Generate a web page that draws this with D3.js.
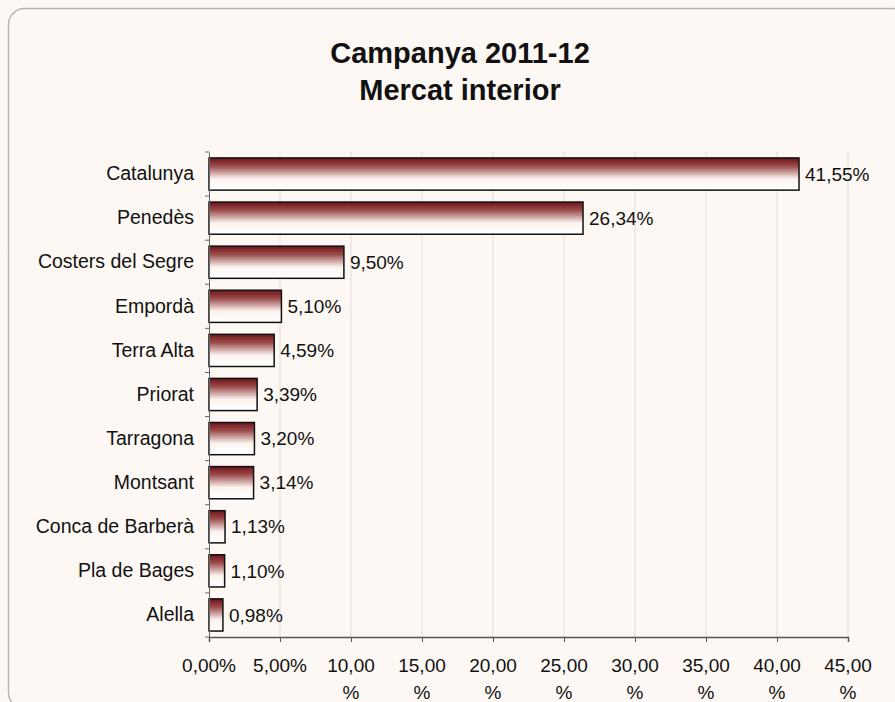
<!DOCTYPE html>
<html>
<head>
<meta charset="utf-8">
<script src="https://d3js.org/d3.v7.min.js"></script>
<style>
  body { margin: 0; background: #fdf8f4; }
  svg text { font-family: "Liberation Sans", Arial, sans-serif; fill: #111; }
</style>
</head>
<body>
<div id="chart"></div>
<script>
  // Chart data
  const categories = ["Catalunya", "Penedès", "Costers del Segre", "Empordà", "Terra Alta",
    "Priorat", "Tarragona", "Montsant", "Conca de Barberà", "Pla de Bages", "Alella"];
  const values = [41.55, 26.34, 9.50, 5.10, 4.59, 3.39, 3.20, 3.14, 1.13, 1.10, 0.98];
  const tickValues = [0, 5, 10, 15, 20, 25, 30, 35, 40, 45];
  const titleLines = ["Campanya 2011-12", "Mercat interior"];

  const width = 895, height = 702;
  const svg = d3.select("#chart").append("svg")
    .attr("width", width).attr("height", height);

  // gradient for bars: dark maroon on top fading to white
  const defs = svg.append("defs");
  const grad = defs.append("linearGradient").attr("id", "barGrad")
    .attr("x1", 0).attr("y1", 0).attr("x2", 0).attr("y2", 1);
  grad.append("stop").attr("offset", "0%").attr("stop-color", "#6e1418");
  grad.append("stop").attr("offset", "25%").attr("stop-color", "#9a4a4a");
  grad.append("stop").attr("offset", "65%").attr("stop-color", "#fbf4f0");
  grad.append("stop").attr("offset", "100%").attr("stop-color", "#ffffff");

  // outer frame
  svg.append("rect")
    .attr("x", 8.5).attr("y", 8.5).attr("width", 900).attr("height", 700)
    .attr("rx", 16).attr("fill", "#fdf8f4")
    .attr("stroke", "#b8b4b0").attr("stroke-width", 1.5);

  const x = d3.scaleLinear().domain([0, 45]).range([209, 848]);
  const y = d3.scaleBand().domain(categories).range([152, 637]).paddingInner(0.27).paddingOuter(0.135);

  // title
  svg.selectAll(".title").data(titleLines).enter().append("text")
    .attr("x", 460).attr("y", (d, i) => 63 + i * 37)
    .attr("text-anchor", "middle")
    .style("font-size", "29px").style("font-weight", "bold")
    .text(d => d);

  // gridlines
  svg.append("g").selectAll("line").data(tickValues.slice(1)).enter().append("line")
    .attr("x1", d => x(d)).attr("x2", d => x(d))
    .attr("y1", 152).attr("y2", 637)
    .attr("stroke", "#e2dedb").attr("stroke-width", 1);

  // bars
  svg.append("g").selectAll("rect").data(values).enter().append("rect")
    .attr("x", x(0))
    .attr("y", (d, i) => y(categories[i]))
    .attr("width", d => x(d) - x(0))
    .attr("height", y.bandwidth())
    .attr("fill", "url(#barGrad)")
    .attr("stroke", "#111").attr("stroke-width", 1.5);

  // value labels
  svg.append("g").selectAll("text").data(values).enter().append("text")
    .attr("x", d => x(d) + 6)
    .attr("y", (d, i) => y(categories[i]) + y.bandwidth() / 2)
    .attr("dy", "0.35em")
    .style("font-size", "19px")
    .text(d => d.toFixed(2).replace(".", ",") + "%");

  // y axis
  const yAxis = svg.append("g").attr("transform", `translate(${x(0)},0)`)
    .call(d3.axisLeft(y).tickSize(0).tickPadding(15));
  yAxis.select(".domain").attr("stroke", "#666");
  yAxis.selectAll("text").style("font-size", "19.5px").style("font-family", "Liberation Sans, Arial, sans-serif").attr("fill", "#111");
  // tick marks between categories
  const bounds = d3.range(categories.length + 1).map(i => 152 + i * y.step());
  yAxis.selectAll(".sep").data(bounds).enter().append("line")
    .attr("x1", -4).attr("x2", 0)
    .attr("y1", d => d).attr("y2", d => d)
    .attr("stroke", "#666");

  // x axis
  const xAxis = svg.append("g").attr("transform", "translate(0,637)")
    .call(d3.axisBottom(x).tickValues(tickValues).tickSize(5).tickFormat(() => ""));
  xAxis.select(".domain").attr("stroke", "#555").attr("stroke-width", 1.5);
  xAxis.selectAll(".tick line").attr("stroke", "#555");

  // x tick labels (wrapping like the original)
  const tl = svg.append("g").selectAll("text").data(tickValues).enter().append("text")
    .attr("x", d => x(d))
    .attr("y", 672)
    .attr("text-anchor", "middle")
    .style("font-size", "19px");
  tl.each(function (d) {
    const s = d.toFixed(2).replace(".", ",");
    const t = d3.select(this);
    if (d < 10) {
      t.text(s + "%");
    } else {
      t.append("tspan").attr("x", x(d)).text(s);
      t.append("tspan").attr("x", x(d)).attr("dy", 27).text("%");
    }
  });
</script>
</body>
</html>
